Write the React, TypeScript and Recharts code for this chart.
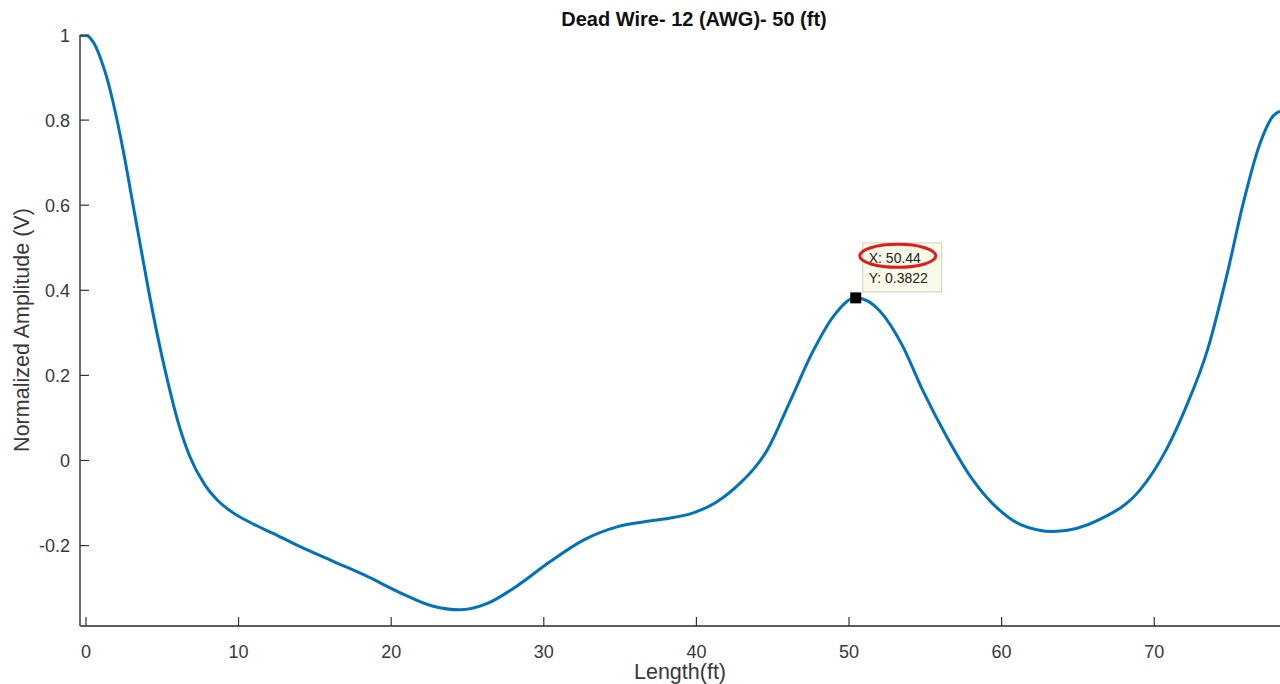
import React from 'react';
import { LineChart, Line, XAxis, YAxis, ReferenceDot } from 'recharts';

// Length (ft) vs normalized amplitude (V)
const lengthFt = [
    -0.39, 0, 0.45, 0.96, 1.35, 1.75, 2.45, 3.0, 3.53, 4.06, 4.65, 5.33, 6.0, 6.8,
    7.8, 8.6, 9.6, 11, 12.3, 14.0, 16.2, 18.4, 20.6, 22.7, 24.5, 26.3, 28.2, 30.4,
    32.6, 34.8, 36.6, 38.5, 39.8, 41.3, 42.9, 43.8, 44.6, 46.1, 47.6, 49.0, 50.44, 51.2, 52.0,
    53.5, 54.8, 56.4, 58.1, 59.9, 61.2, 63.4, 66.4, 69.1, 70.8, 72.1, 73.5, 74.8,
    75.8, 76.9, 77.8, 78.24,
];
const amplitude = [
    0.998, 0.999, 0.985, 0.945, 0.902, 0.846, 0.727, 0.618, 0.513, 0.408, 0.3, 0.19, 0.095, 0.01,
    -0.058, -0.093, -0.122, -0.15, -0.172, -0.202, -0.237, -0.272, -0.311, -0.342, -0.351, -0.336, -0.296, -0.238,
    -0.187, -0.156, -0.144, -0.134, -0.123, -0.098, -0.052, -0.018, 0.022, 0.136, 0.254, 0.34, 0.3822, 0.375, 0.352,
    0.27, 0.167, 0.056, -0.045, -0.118, -0.15, -0.167, -0.139, -0.068, 0.026, 0.127, 0.261, 0.442,
    0.6, 0.742, 0.81, 0.821,
];
const xTicks = [0, 10, 20, 30, 40, 50, 60, 70];
const yTicks = [-0.2, 0, 0.2, 0.4, 0.6, 0.8, 1];
const tipX = 50.44;
const tipY = 0.3822;

const data = lengthFt.map((x, i) => ({ x, y: amplitude[i] }));

const FONT = '"Liberation Sans", Arial, Helvetica, sans-serif';
const AXIS = '#5e5e5e';
const TEXT = '#383838';
const TICK_LEN = 9;

function BottomTick(props: any) {
    const { x, y, payload } = props;
    return (
        <g>
            <line x1={x} y1={y} x2={x} y2={y - TICK_LEN} stroke="#333" strokeWidth={1.2} />
            <text x={x} y={y + 32} textAnchor="middle" fill={TEXT} fontSize={18} fontFamily={FONT}>
                {payload.value}
            </text>
        </g>
    );
}

function TopTick(props: any) {
    const { x, y } = props;
    return <line x1={x} y1={y} x2={x} y2={y + TICK_LEN} stroke="#333" strokeWidth={1.2} />;
}

function LeftTick(props: any) {
    const { x, y, payload } = props;
    return (
        <g>
            <line x1={x} y1={y} x2={x + TICK_LEN} y2={y} stroke="#333" strokeWidth={1.2} />
            <text x={x - 10} y={y + 6.5} textAnchor="end" fill={TEXT} fontSize={18} fontFamily={FONT}>
                {payload.value}
            </text>
        </g>
    );
}

function RightTick(props: any) {
    const { x, y } = props;
    return <line x1={x} y1={y} x2={x - TICK_LEN} y2={y} stroke="#333" strokeWidth={1.2} />;
}

// MATLAB-like data tip with the red circle someone drew on it
function DataTip(props: any) {
    const { cx, cy } = props;
    return (
        <g fontFamily={FONT}>
            <rect x={cx + 7} y={cy - 55} width={79} height={49} fill="#fafae8" stroke="#cfcfbc" strokeWidth={1} />
            <text x={cx + 13} y={cy - 35} fontSize={14} fill="#222">X: 50.44</text>
            <text x={cx + 13} y={cy - 15} fontSize={14} fill="#222">Y: 0.3822</text>
            <ellipse cx={cx + 42} cy={cy - 42} rx={38} ry={11.5} fill="none" stroke="#e01b1b" strokeWidth={3} />
            <rect x={cx - 5.5} y={cy - 5.5} width={11} height={11} fill="#000" />
        </g>
    );
}

export default function App() {
    return (
        <div style={{ position: 'absolute', left: 0, top: 0, width: 1280, height: 684, background: '#fff', overflow: 'hidden' }}>
            <div
                style={{
                    position: 'absolute', left: 0, top: 8, width: 1388, textAlign: 'center',
                    fontFamily: FONT, fontWeight: 'bold', fontSize: 20, color: '#111', lineHeight: '22px',
                }}
            >
                Dead Wire- 12 (AWG)- 50 (ft)
            </div>
            <div
                style={{
                    position: 'absolute', left: 80, top: 660, width: 1200, textAlign: 'center',
                    fontFamily: FONT, fontSize: 21.5, color: TEXT, lineHeight: '24px',
                }}
            >
                Length(ft)
            </div>
            <div
                style={{
                    position: 'absolute', left: 22, top: 330, transform: 'translate(-50%, -50%) rotate(-90deg)',
                    whiteSpace: 'nowrap', fontFamily: FONT, fontSize: 21.5, color: TEXT, lineHeight: '24px',
                }}
            >
                Normalized Amplitude (V)
            </div>
            <LineChart width={1280} height={684} data={data} margin={{ top: 35, right: 0, bottom: 0, left: 0 }}>
                <XAxis
                    dataKey="x"
                    type="number"
                    domain={[-0.39, 78.24]}
                    allowDataOverflow
                    ticks={xTicks}
                    height={58}
                    tickSize={0}
                    tickMargin={0}
                    tickLine={false}
                    axisLine={{ stroke: AXIS, strokeWidth: 1.8 }}
                    tick={<BottomTick />}
                    interval={0}
                />
                <XAxis
                    xAxisId="top"
                    orientation="top"
                    type="number"
                    domain={[-0.39, 78.24]}
                    allowDataOverflow
                    ticks={xTicks}
                    height={0}
                    tickSize={0}
                    tickMargin={0}
                    tickLine={false}
                    axisLine={{ stroke: AXIS, strokeWidth: 1.8 }}
                    tick={<TopTick />}
                    interval={0}
                />
                <YAxis
                    type="number"
                    domain={[-0.389, 1]}
                    allowDataOverflow
                    ticks={yTicks}
                    width={80}
                    tickSize={0}
                    tickMargin={0}
                    tickLine={false}
                    axisLine={{ stroke: AXIS, strokeWidth: 1.8 }}
                    tick={<LeftTick />}
                    interval={0}
                />
                <YAxis
                    yAxisId="right"
                    orientation="right"
                    type="number"
                    domain={[-0.389, 1]}
                    allowDataOverflow
                    ticks={yTicks}
                    width={0}
                    tickSize={0}
                    tickMargin={0}
                    tickLine={false}
                    axisLine={{ stroke: AXIS, strokeWidth: 1.8 }}
                    tick={<RightTick />}
                    interval={0}
                />
                <Line
                    type="monotone"
                    dataKey="y"
                    stroke="#0072BD"
                    strokeWidth={3}
                    dot={false}
                    activeDot={false}
                    isAnimationActive={false}
                />
                <ReferenceDot x={tipX} y={tipY} ifOverflow="visible" shape={<DataTip />} />
            </LineChart>
        </div>
    );
}
